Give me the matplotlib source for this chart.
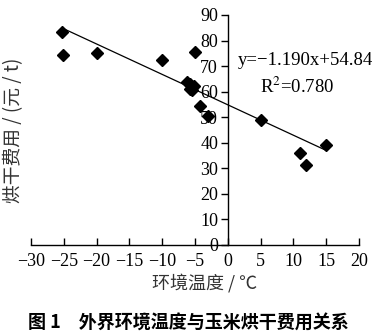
import numpy as np
import matplotlib
matplotlib.use("Agg")
from matplotlib import pyplot as plt

# data
temp = [-25.2, -25.1, -20.0, -10.1, -5.0, -6.2, -5.8, -5.2, -5.8, -5.5, -4.2, -3.0, 5.0, 11.0, 11.9, 15.0]
cost = [83.5, 74.3, 75.0, 72.5, 75.4, 63.8, 62.8, 62.3, 61.2, 60.8, 54.4, 50.3, 48.9, 35.9, 31.2, 39.2]
slope = -1.190
intercept = 54.84
fit_x = [-25.0, 14.8]
x_ticks = [-30, -25, -20, -15, -10, -5, 0, 5, 10, 15, 20]
y_ticks = [0, 10, 20, 30, 40, 50, 60, 70, 80, 90]

serif = ['Liberation Serif', 'Noto Sans CJK SC']
cjk = ['Noto Sans CJK SC', 'Liberation Serif']

plt.rcParams['font.family'] = serif
plt.rcParams['mathtext.fontset'] = 'stix'

fig = plt.figure(figsize=(3.76, 3.36), dpi=100)
ax = fig.add_axes([0.0824, 0.271, 0.8723, 0.6845])

ax.plot(temp, cost, linestyle='none', marker='D', markersize=6, color='black')
fx = np.array(fit_x)
ax.plot(fx, slope * fx + intercept, color='black', linewidth=0.9)

ax.set_xlim(-30, 20)
ax.set_ylim(0, 90)
ax.set_xticks(x_ticks)
ax.set_yticks(y_ticks)
ax.set_xticklabels([str(v).replace('-', '\u2212') for v in x_ticks])
ax.set_yticklabels([str(v) for v in y_ticks])

ax.spines['left'].set_position(('data', 0))
ax.spines['top'].set_visible(False)
ax.spines['right'].set_visible(False)
for s in ['left', 'bottom']:
    ax.spines[s].set_linewidth(1.0)
ax.tick_params(axis='x', direction='in', length=5, width=1, labelsize=13, pad=6)
ax.tick_params(axis='y', direction='out', length=5, width=1, labelsize=13, pad=2)

ax.text(11.9, 72, 'y=\u22121.190x+54.84', fontsize=13.5, ha='center', va='center')
ax.text(10.6, 61.8, 'R$^2$=0.780', fontsize=13.5, ha='center', va='center')

fig.text(0.545, 0.157, '环境温度 / ℃', fontsize=13, ha='center', va='center', family=cjk, color='#333333')
fig.text(0.036, 0.613, '烘干费用 / (元 / t)', fontsize=13.5, ha='center', va='center',
         rotation=90, family=cjk, color='#333333')
fig.text(0.5, 0.039, '图 1　外界环境温度与玉米烘干费用关系', fontsize=13, ha='center', va='center',
         family=cjk, fontweight='bold')

fig.savefig('out.png', dpi=100)
